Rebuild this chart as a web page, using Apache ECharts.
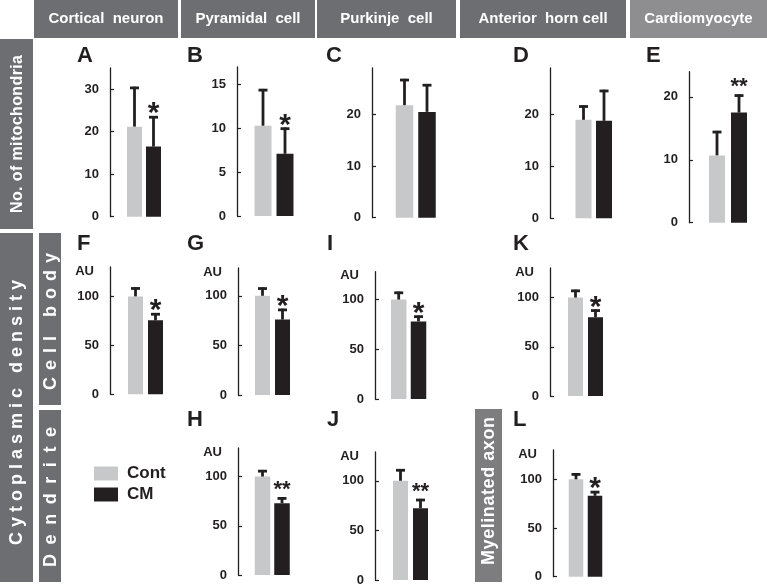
<!DOCTYPE html>
<html><head><meta charset="utf-8">
<script src="https://cdn.jsdelivr.net/npm/echarts@6/dist/echarts.min.js"></script>
<style>html,body{margin:0;padding:0;background:#fff}#c{width:767px;height:588px}</style>
</head><body><div id="c"></div>
<script>
// ---------- data ----------
const panelNames   = ['A','B','C','D','E','F','G','I','K','H','J','L'];
const seriesNames  = ['Cont','CM'];
const contMean     = [21.2, 10.3, 21.8, 19.0, 10.7, 100, 100, 100, 100, 100, 100, 100];
const contSD       = [9.4, 4.2, 5.1, 2.8, 3.9, 9.3, 8.5, 8.0, 8.0, 6.7, 11.8, 6.2];
const cmMean       = [16.5, 7.1, 20.5, 18.8, 17.5, 75.5, 76, 78, 80, 73, 72.4, 83];
const cmSD         = [7.2, 3.0, 5.4, 6.0, 2.9, 7.5, 11.0, 6.0, 8.0, 6.0, 9.4, 5.0];
const significance = ['*','*','','','**','*','*','*','*','**','**','*'];
const axisMax      = [35, 17, 29, 29, 24, 130, 128, 128, 130, 129, 129, 130];
const tickValues   = [[0,10,20,30],[0,5,10,15],[0,10,20],[0,10,20],[0,10,20],
                      [0,50,100],[0,50,100],[0,50,100],[0,50,100],[0,50,100],[0,50,100],[0,50,100]];
const headerLabels = ['Cortical  neuron','Pyramidal  cell','Purkinje  cell','Anterior  horn cell','Cardiomyocyte'];
const rowLabels    = ['No. of mitochondria','Cytoplasmic density'];
const subRowLabels = ['Cell body','Dendrite','Myelinated axon'];
const unitLabel    = 'AU';
const auPanels     = ['F','G','I','K','H','J','L'];

// ---------- layout (pixels): axisX, top, zeroY, barCenter1, barCenter2, barWidth, letterX, letterY ----------
const layout = [
  [110, 68, 216.7, 134.5, 153.5, 15, 77, 55.5],
  [237, 67, 216, 263, 285, 17, 187, 55.5],
  [372, 68, 217.7, 404.5, 427, 17.5, 326, 55.5],
  [550, 68, 218.3, 583.5, 604, 16, 513, 55.5],
  [689, 71.7, 222.7, 717, 739, 16, 646, 55.5],
  [110, 267, 394.3, 135.5, 155.5, 15, 77, 244],
  [238, 268, 395, 262.5, 282.5, 15, 187, 244],
  [375, 271.7, 399, 398.7, 418.5, 15.5, 327, 244],
  [550, 268, 396, 575.5, 595.5, 15, 513, 244],
  [238, 448, 575, 262.5, 282, 15.5, 187, 420],
  [375, 452, 580, 400.5, 420.5, 15, 327, 420],
  [553, 450, 576.7, 576, 595, 14.5, 513, 420]
];
const FONT = "'Liberation Sans', Arial, sans-serif";
const INK = '#231f20', GRAY = '#c7c8ca', BOX = '#6d6e71';

const grids = [], xAxes = [], yAxes = [], series = [], graphics = [];

layout.forEach((L, i) => {
  const [ax, top, zero, c1, c2, bw, lx, ly] = L;
  const sp = c2 - c1;
  const left = c1 - sp / 2;
  grids.push({left: left, top: top, width: 2 * sp, height: zero - top});
  xAxes.push({type: 'category', gridIndex: i, data: seriesNames, show: false});
  yAxes.push({
    type: 'value', gridIndex: i, min: 0, max: axisMax[i], offset: left - ax,
    axisLine: {show: true, lineStyle: {color: INK, width: 1.3}},
    axisTick: {show: true, inside: true, length: 4, customValues: tickValues[i], lineStyle: {color: INK, width: 1.2}},
    axisLabel: {customValues: tickValues[i], margin: 11, color: INK, fontSize: 13, fontWeight: 'bold', fontFamily: FONT},
    splitLine: {show: false}
  });
  series.push({name: 'Cont', type: 'bar', xAxisIndex: i, yAxisIndex: i, barWidth: bw, barGap: '-100%',
    itemStyle: {color: GRAY}, data: [contMean[i], '-'], silent: true});
  series.push({name: 'CM', type: 'bar', xAxisIndex: i, yAxisIndex: i, barWidth: bw, barGap: '-100%',
    itemStyle: {color: INK}, data: ['-', cmMean[i]], silent: true});
  const sig = significance[i];
  series.push({
    type: 'custom', xAxisIndex: i, yAxisIndex: i, z: 5, silent: true,
    data: [[0, contMean[i], contSD[i]], [1, cmMean[i], cmSD[i]]],
    encode: {x: 0, y: 1},
    renderItem: function (params, api) {
      const cat = api.value(0), m = api.value(1), sd = api.value(2);
      const p0 = api.coord([cat, m]);
      const p1 = api.coord([cat, m + sd]);
      const children = [
        {type: 'line', shape: {x1: p0[0], y1: p0[1], x2: p1[0], y2: p1[1]}, style: {stroke: INK, lineWidth: 2.8}},
        {type: 'line', shape: {x1: p1[0] - 4.5, y1: p1[1] + 1.2, x2: p1[0] + 4.5, y2: p1[1] + 1.2}, style: {stroke: INK, lineWidth: 2.8}}
      ];
      if (params.dataIndex === 1 && sig) {
        const single = sig.length === 1;
        children.push({type: 'text', x: p1[0], y: p1[1] - (single ? 2 : 7),
          style: {text: sig, fill: INK, font: 'bold ' + (single ? 30 : 22) + 'px ' + FONT, align: 'center', verticalAlign: 'middle'}});
      }
      return {type: 'group', children: children};
    }
  });
  graphics.push({type: 'text', left: lx, top: ly - 11, style: {text: panelNames[i], fill: INK, font: 'bold 22px ' + FONT}});
  if (auPanels.indexOf(panelNames[i]) >= 0) {
    graphics.push({type: 'text', x: ax - 16, y: top + 4, style: {text: unitLabel, fill: INK, font: 'bold 13px ' + FONT, align: 'right', verticalAlign: 'middle'}});
  }
});

// vertical text, letter-spaced to a given length (reads bottom to top)
const mctx = document.createElement('canvas').getContext('2d');
function verticalText(text, font, cx, cy, length) {
  mctx.font = font;
  const chars = Array.from(text);
  const widths = chars.map(c => mctx.measureText(c).width);
  const natural = widths.reduce((a, b) => a + b, 0);
  const ls = length ? (length - natural) / (chars.length - 1) : 0;
  const total = natural + ls * (chars.length - 1);
  let acc = 0;
  chars.forEach((c, k) => {
    if (c !== ' ') {
      graphics.push({type: 'text', x: cx, y: cy + total / 2 - acc - widths[k] / 2, rotation: Math.PI / 2,
        style: {text: c, fill: '#fff', font: font, align: 'center', verticalAlign: 'middle'}});
    }
    acc += widths[k] + ls;
  });
}

// header boxes
const headerBoxes = [[34, 144, BOX], [181, 134, BOX], [317, 139, BOX], [460, 166, BOX], [630, 137, '#8e8e90']];
headerBoxes.forEach((b, k) => {
  graphics.push({type: 'rect', shape: {x: b[0], y: 0, width: b[1], height: 38}, style: {fill: b[2]}});
  graphics.push({type: 'text', x: b[0] + b[1] / 2, y: 19, style: {text: headerLabels[k], fill: '#fff', font: 'bold 15px ' + FONT, align: 'center', verticalAlign: 'middle'}});
});
// left row boxes  [x, y, w, h, fill, fontSize, textCenterY, textLength]
const rowBoxes = [[0, 39, 33, 190, BOX, 16, 134, 158], [0, 233, 33, 349, BOX, 18, 412.5, 265]];
rowBoxes.forEach((b, k) => {
  graphics.push({type: 'rect', shape: {x: b[0], y: b[1], width: b[2], height: b[3]}, style: {fill: b[4]}});
  verticalText(rowLabels[k], 'bold ' + b[5] + 'px ' + FONT, b[0] + b[2] / 2 + 1, b[6], b[7]);
});
const subBoxes = [[39, 233, 22, 172, BOX, 18, 321.5, 137], [39, 410, 22, 172, BOX, 18, 497, 140], [475, 409, 27, 173, '#7d7d80', 18, 491, 148]];
subBoxes.forEach((b, k) => {
  graphics.push({type: 'rect', shape: {x: b[0], y: b[1], width: b[2], height: b[3]}, style: {fill: b[4]}});
  verticalText(subRowLabels[k], 'bold ' + b[5] + 'px ' + FONT, b[0] + b[2] / 2 + 1, b[6], b[7]);
});

const chart = echarts.init(document.getElementById('c'), null, {renderer: 'canvas'});
chart.setOption({
  animation: false,
  backgroundColor: '#fff',
  grid: grids, xAxis: xAxes, yAxis: yAxes, series: series,
  legend: {data: seriesNames, orient: 'vertical', left: 94, top: 465, padding: 0, itemWidth: 24, itemHeight: 14, itemGap: 4,
    icon: 'rect', selectedMode: false,
    textStyle: {fontSize: 17, lineHeight: 14, fontWeight: 'bold', color: INK, fontFamily: FONT, padding: [0, 0, 0, 4]}},
  graphic: graphics
});
</script></body></html>
